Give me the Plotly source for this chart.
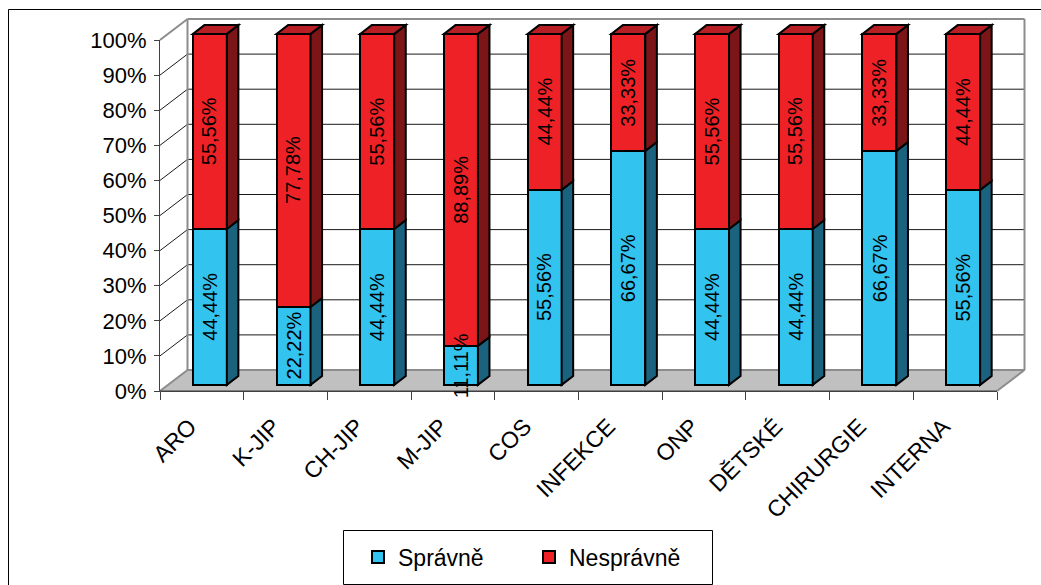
import plotly.graph_objects as go

# ---- data -------------------------------------------------------------
categories = ["ARO", "K-JIP", "CH-JIP", "M-JIP", "COS", "INFEKCE",
              "ONP", "DĚTSKÉ", "CHIRURGIE", "INTERNA"]
spravne = [44.44, 22.22, 44.44, 11.11, 55.56, 66.67, 44.44, 44.44, 66.67, 55.56]
nespravne = [55.56, 77.78, 55.56, 88.89, 44.44, 33.33, 55.56, 55.56, 33.33, 44.44]
series_names = ["Správně", "Nesprávně"]
y_ticks = [0, 10, 20, 30, 40, 50, 60, 70, 80, 90, 100]

# ---- geometry of the pseudo 3-D box (pixels) ---------------------------
W_FIG, H_FIG = 1041, 585
FL, FR, FB, FT = 160, 997, 391, 40        # front plane: left, right, 0 %, 100 %
DEPTH = (27.5, -21.0)                     # back wall offset from the front plane
BAR_FRONT, BAR_BACK = 0.29, 0.71          # depth fraction of bar front / back
BAR_W = 0.406

COL_FRONT = ["#33C3EF", "#EE2226"]
COL_SIDE = ["#1A627D", "#7B1517"]
COL_TOP = ["#2A9CC0", "#B81F24"]

n = len(categories)
cat_px = (FR - FL) / n
pct_px = (FB - FT) / 100.0
DX = DEPTH[0] / cat_px          # full depth in category units
DY = -DEPTH[1] / pct_px         # full depth in percent units


def fx(p):
    return p / W_FIG


def fy(p):
    return 1 - p / H_FIG


# bar plane (x2/y2): pixel window and matching data ranges
X2_PX = (100, 1040)
Y2_PX = (400, 5)


def x2_val(p):
    return (p - FL - BAR_FRONT * DEPTH[0]) / cat_px - 0.5


def y2_val(p):
    return (FB + BAR_FRONT * DEPTH[1] - p) / pct_px


def P(x, y, d):
    """Point at category x, percent y and depth d, in bar-plane coords."""
    return (x + (d - BAR_FRONT) * DX, y + (d - BAR_FRONT) * DY)


def poly(points):
    s = "M " + " L ".join(f"{x:.4f},{y:.4f}" for x, y in points) + " Z"
    return s


fig = go.Figure()

# invisible trace so the front-plane axes (ticks and labels) get rendered
fig.add_trace(go.Scatter(x=[0], y=[0], xaxis="x", yaxis="y", mode="markers",
                         marker=dict(opacity=0), showlegend=False,
                         hoverinfo="skip"))

for k, (name, vals) in enumerate(zip(series_names, [spravne, nespravne])):
    fig.add_trace(go.Bar(
        x=list(range(n)), y=vals, name=name, width=BAR_W,
        marker=dict(color=COL_FRONT[k], line=dict(color="black", width=2)),
        xaxis="x2", yaxis="y2", hoverinfo="skip",
    ))

shapes = []
xl, xr = -0.5, n - 0.5

# floor
shapes.append(dict(type="path", xref="x2", yref="y2", layer="below",
                   path=poly([P(xl, 0, 0), P(xr, 0, 0), P(xr, 0, 1), P(xl, 0, 1)]),
                   fillcolor="#C0C0C0", line=dict(width=0)))
# gridlines: back wall horizontals + left wall diagonals
for v in y_ticks[1:-1]:
    a, b = P(xl, v, 1), P(xr, v, 1)
    shapes.append(dict(type="line", xref="x2", yref="y2", layer="below",
                       x0=a[0], y0=a[1], x1=b[0], y1=b[1],
                       line=dict(color="#1a1a1a", width=1)))
    a, b = P(xl, v, 0), P(xl, v, 1)
    shapes.append(dict(type="line", xref="x2", yref="y2", layer="below",
                       x0=a[0], y0=a[1], x1=b[0], y1=b[1],
                       line=dict(color="#1a1a1a", width=1)))
# wall and floor edges
edges = [
    (P(xl, 0, 1), P(xl, 100, 1)), (P(xl, 100, 1), P(xr, 100, 1)),
    (P(xr, 100, 1), P(xr, 0, 1)), (P(xr, 0, 1), P(xl, 0, 1)),
    (P(xl, 100, 0), P(xl, 100, 1)), (P(xl, 0, 0), P(xl, 0, 1)),
    (P(xr, 0, 0), P(xr, 0, 1)),
]
for a, b in edges:
    shapes.append(dict(type="line", xref="x2", yref="y2", layer="below",
                       x0=a[0], y0=a[1], x1=b[0], y1=b[1],
                       line=dict(color="#8C8C8C", width=2)))
a, b = P(xl, 0, 0), P(xr, 0, 0)
shapes.append(dict(type="line", xref="x2", yref="y2", layer="below",
                   x0=a[0], y0=a[1], x1=b[0], y1=b[1],
                   line=dict(color="#404040", width=1)))

# side and top faces of the bars
depth = BAR_BACK - BAR_FRONT
for i in range(n):
    right = i + BAR_W / 2
    left = i - BAR_W / 2
    lo = 0.0
    for k, vals in enumerate([spravne, nespravne]):
        hi = lo + vals[i]
        pts = [(right, lo), (right + depth * DX, lo + depth * DY),
               (right + depth * DX, hi + depth * DY), (right, hi)]
        shapes.append(dict(type="path", xref="x2", yref="y2", layer="above",
                           path=poly(pts), fillcolor=COL_SIDE[k],
                           line=dict(color="black", width=2)))
        lo = hi
    pts = [(left, lo), (right, lo), (right + depth * DX, lo + depth * DY),
           (left + depth * DX, lo + depth * DY)]
    shapes.append(dict(type="path", xref="x2", yref="y2", layer="above",
                       path=poly(pts), fillcolor=COL_TOP[1],
                       line=dict(color="black", width=2)))

# chart frame and legend box
shapes.append(dict(type="rect", xref="paper", yref="paper", layer="below",
                   x0=fx(8.5), x1=fx(1050), y0=fy(595), y1=fy(9.5),
                   line=dict(color="black", width=1)))
shapes.append(dict(type="rect", xref="paper", yref="paper", layer="below",
                   x0=fx(343.5), x1=fx(712.5), y0=fy(584.5), y1=fy(530.5),
                   fillcolor="white", line=dict(color="black", width=1)))

# value labels, rotated inside each segment
annotations = []
for i in range(n):
    lo = 0.0
    for vals in [spravne, nespravne]:
        v = vals[i]
        annotations.append(dict(
            x=i, y=lo + v / 2, xref="x2", yref="y2", showarrow=False,
            text=f"{v:.2f}".replace(".", ",") + "%", textangle=-90,
            font=dict(family="Liberation Sans Narrow, Liberation Sans, Arial",
                      size=20, color="black")))
        lo += v

font_main = "Liberation Sans, Arial, sans-serif"
fig.update_layout(
    width=W_FIG, height=H_FIG, autosize=False,
    margin=dict(l=0, r=0, t=0, b=0, autoexpand=False),
    paper_bgcolor="white", plot_bgcolor="rgba(0,0,0,0)",
    barmode="stack", bargap=0,
    font=dict(family=font_main, size=22, color="black"),
    shapes=shapes, annotations=annotations,
    showlegend=True,
    legend=dict(orientation="h", x=fx(358), y=fy(557), xanchor="left",
                yanchor="middle", bgcolor="rgba(0,0,0,0)", borderwidth=0,
                font=dict(family=font_main, size=23, color="black"),
                entrywidth=126, traceorder="normal"),
    xaxis=dict(type="linear", domain=[fx(FL), fx(FR)], range=[-0.5, n - 0.5],
               anchor="y", automargin=False,
               tickmode="array", tickvals=list(range(n)), ticktext=categories,
               tickangle=-45, ticks="", showgrid=False, zeroline=False,
               showline=True, linecolor="#404040", linewidth=1,
               ticklabelstandoff=12, ticklabelshift=-12,
               minor=dict(ticks="outside", tickmode="array",
                          tickvals=[i - 0.5 for i in range(n + 1)],
                          ticklen=8, tickcolor="#404040", tickwidth=1,
                          showgrid=False),
               tickfont=dict(size=23), fixedrange=True),
    yaxis=dict(type="linear", domain=[fy(FB), fy(FT)], range=[0, 100],
               anchor="x", automargin=False,
               tickmode="array", tickvals=y_ticks,
               ticktext=[f"{t}%" for t in y_ticks],
               ticks="outside", ticklen=5, tickcolor="#404040",
               showgrid=False, zeroline=False, showline=True,
               linecolor="#404040", linewidth=1, ticklabelstandoff=3,
               tickfont=dict(size=22), fixedrange=True),
    xaxis2=dict(domain=[fx(X2_PX[0]), fx(X2_PX[1])],
                range=[x2_val(X2_PX[0]), x2_val(X2_PX[1])],
                anchor="y2", visible=False, fixedrange=True),
    yaxis2=dict(domain=[fy(Y2_PX[0]), fy(Y2_PX[1])],
                range=[y2_val(Y2_PX[0]), y2_val(Y2_PX[1])],
                anchor="x2", visible=False, fixedrange=True),
)

fig.write_html("out.html")
